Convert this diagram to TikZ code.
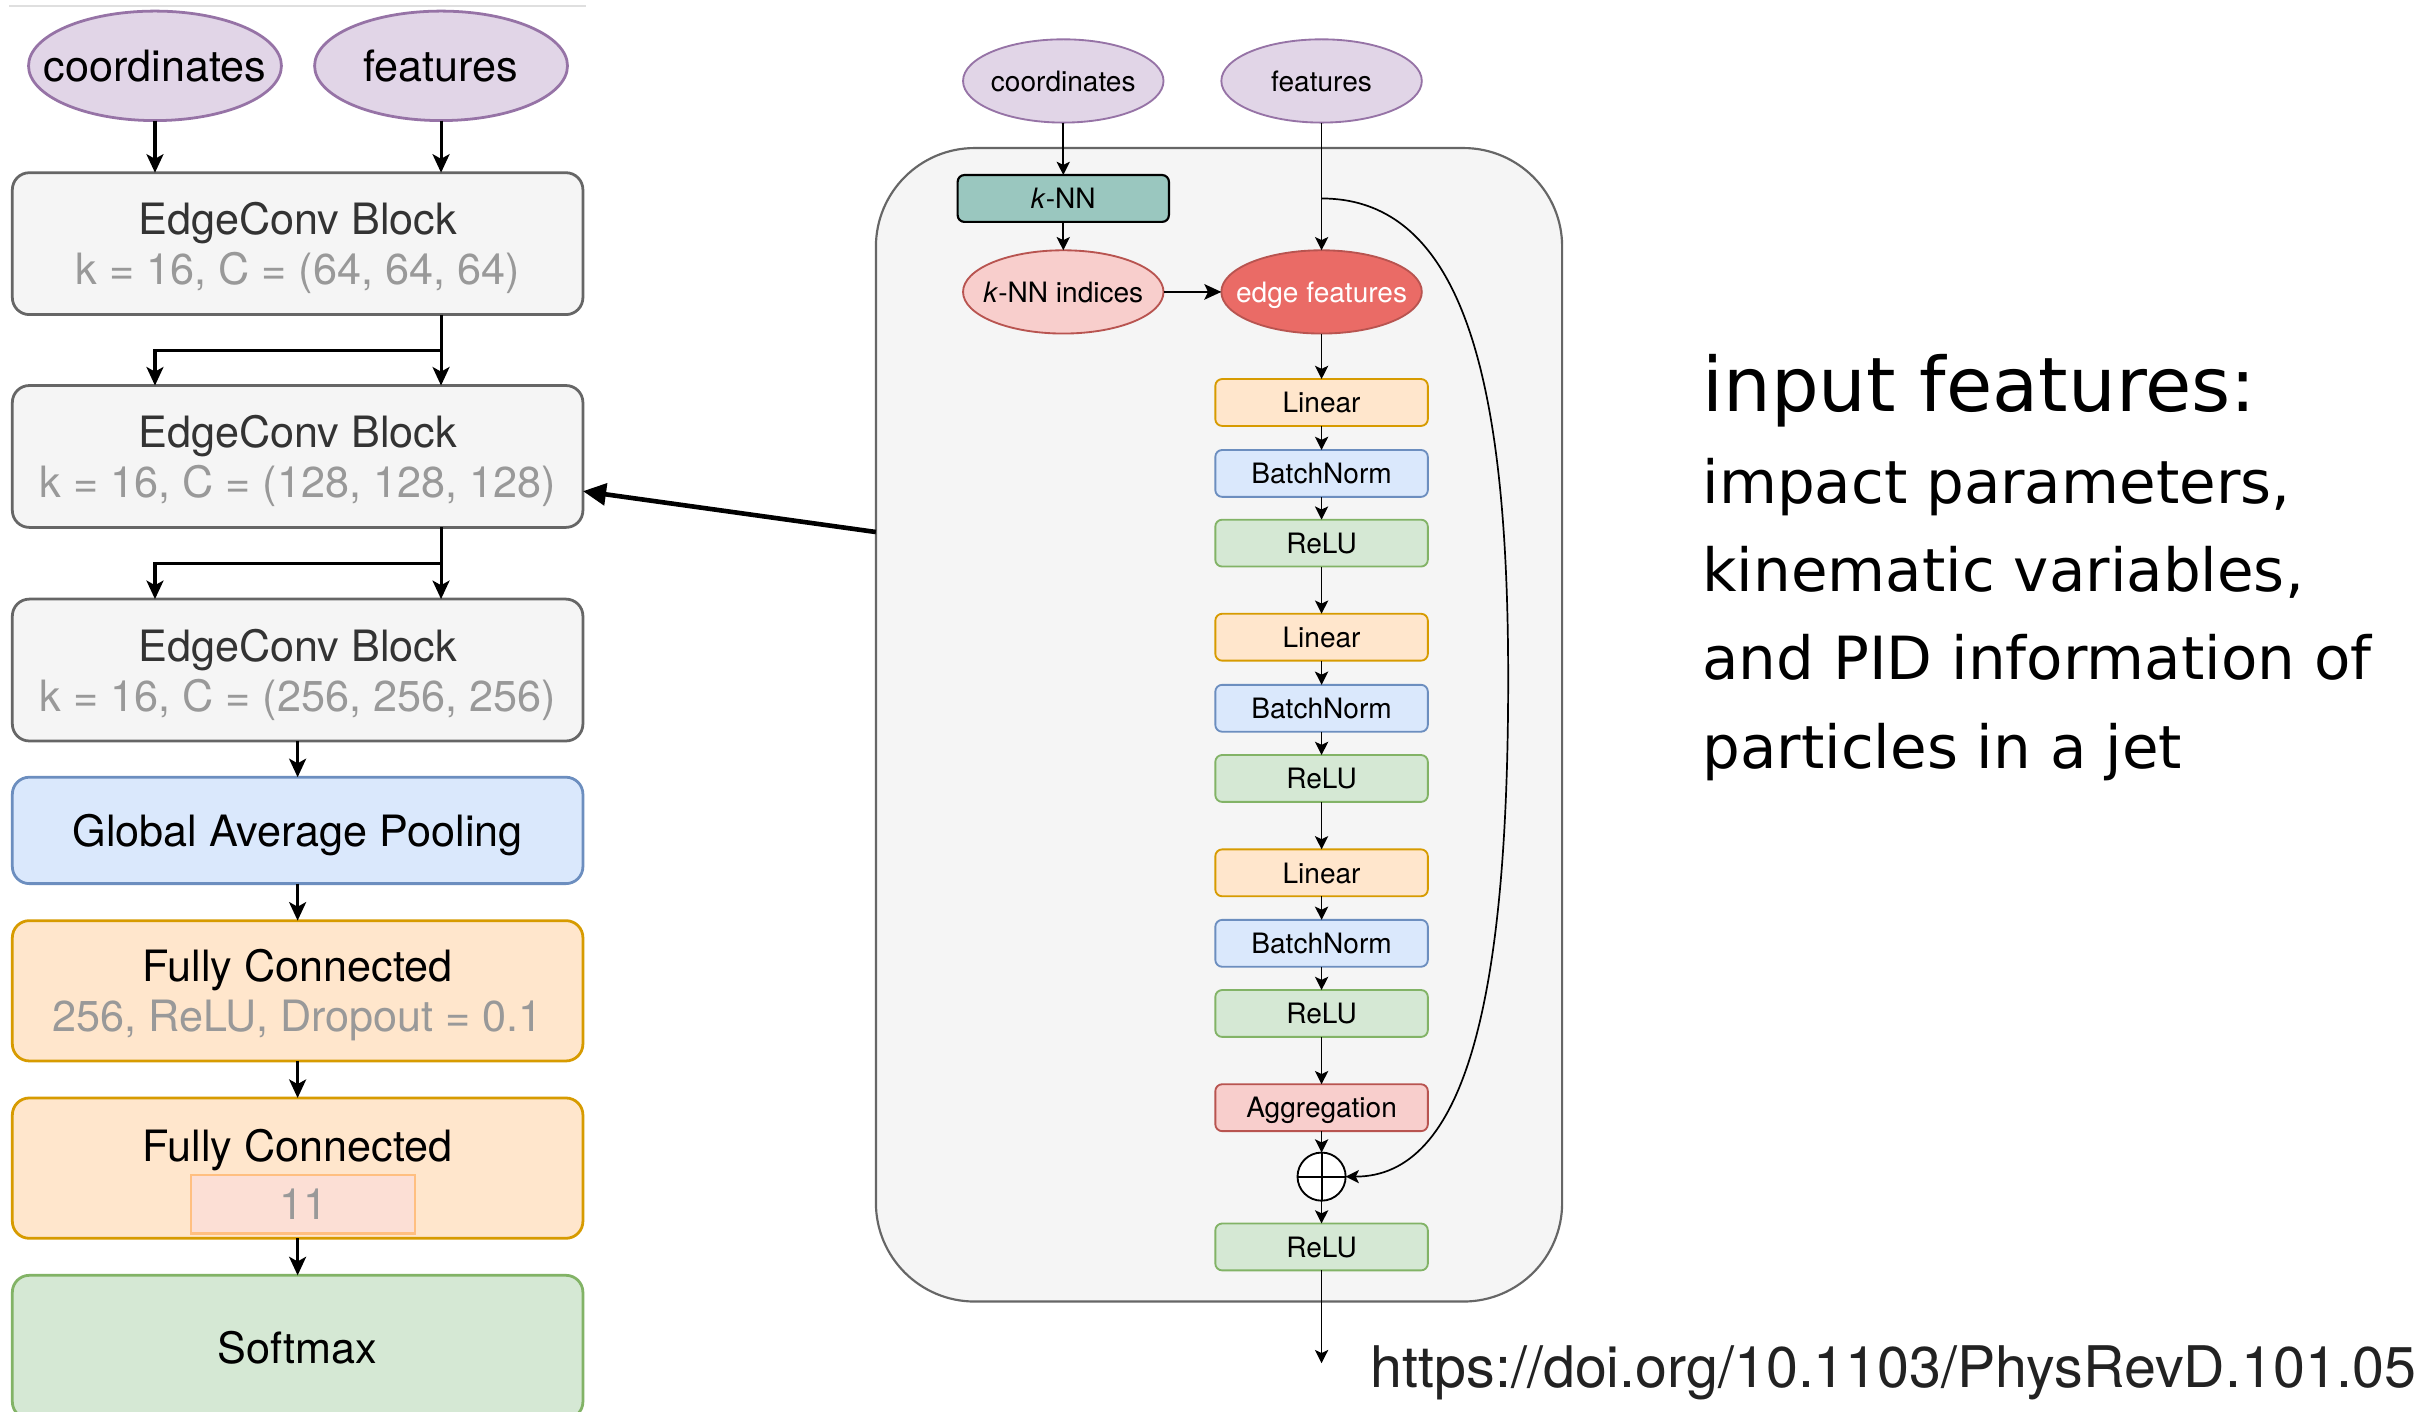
\documentclass[tikz,border=0pt]{standalone}
\usepackage{fontspec}
\setmainfont{TeX Gyre Heros}
\newfontfamily\handfont{DejaVu Sans}
\usetikzlibrary{calc,arrows.meta,shapes.geometric}

\definecolor{boxfill}{HTML}{F5F5F5}
\definecolor{boxline}{HTML}{666666}
\definecolor{boxtext}{HTML}{333333}
\definecolor{subtext}{HTML}{999999}
\definecolor{inputfill}{HTML}{E1D5E7}
\definecolor{inputline}{HTML}{9673A6}
\definecolor{bluefill}{HTML}{DAE8FC}
\definecolor{blueline}{HTML}{6C8EBF}
\definecolor{orangefill}{HTML}{FFE6CC}
\definecolor{orangeline}{HTML}{D79B00}
\definecolor{greenfill}{HTML}{D5E8D4}
\definecolor{greenline}{HTML}{82B366}
\definecolor{redfill}{HTML}{F8CECC}
\definecolor{redline}{HTML}{B85450}
\definecolor{edgered}{HTML}{EA6B66}
\definecolor{knnfill}{HTML}{9AC7BF}
\definecolor{outfill}{HTML}{FCDFD5}
\definecolor{outborder}{HTML}{FFBF80}
\definecolor{urltext}{HTML}{222222}

\begin{document}
\begin{tikzpicture}[x=0.5pt, y=-0.5pt, inner sep=0pt, outer sep=0pt,
    bigfont/.style={font=\fontsize{14}{16.2}\selectfont},
    smallfont/.style={font=\fontsize{9.1}{11}\selectfont},
    % left column
    input_l/.style={ellipse, draw=inputline, fill=inputfill, line width=0.9pt,
        minimum width=82pt, minimum height=35.5pt, text depth=0pt, bigfont},
    net_box/.style={rounded corners=5.5pt, line width=0.9pt, minimum width=185pt,
        minimum height=46pt, align=center, text depth=0pt, bigfont},
    ec_box/.style={net_box, draw=boxline, fill=boxfill, text=boxtext},
    gap_box/.style={net_box, draw=blueline, fill=bluefill, minimum height=34.5pt},
    fc_box/.style={net_box, draw=orangeline, fill=orangefill, minimum height=45.5pt},
    sm_box/.style={net_box, draw=greenline, fill=greenfill, minimum height=46.5pt},
    out_box/.style={draw=outborder, fill=outfill, line width=0.8pt, minimum width=72.5pt,
        minimum height=19pt, text=subtext, bigfont},
    arr_l/.style={-{Stealth[length=6pt,width=5.5pt,inset=1.5pt]}, line width=1pt},
    % edge conv block
    input_m/.style={ellipse, draw=inputline, fill=inputfill, line width=0.6pt,
        minimum width=65pt, minimum height=27pt, text depth=0pt, smallfont},
    layer/.style={rounded corners=2.2pt, line width=0.6pt, minimum width=68.9pt,
        minimum height=15.2pt, text depth=0pt, smallfont},
    lin/.style={layer, draw=orangeline, fill=orangefill},
    bnorm/.style={layer, draw=blueline, fill=bluefill},
    relu/.style={layer, draw=greenline, fill=greenfill},
    arr_m/.style={-{Stealth[length=4.3pt,width=4.3pt,inset=1pt]}, line width=0.55pt},
    % side notes
    hand_title/.style={anchor=base west, font=\handfont\fontsize{24.4}{28}\selectfont},
    hand_body/.style={anchor=base west, font=\handfont\fontsize{19.3}{23}\selectfont}]

    \path[use as bounding box, fill=white] (0,0) rectangle (1568,915);
    \draw[gray!25, line width=0.5pt] (6,4) -- (380,4);

    % network overview
    \node[input_l] (coord_l) at (100.5, 42.7) {\makebox[0pt]{coordinates}};
    \node[input_l] (feat_l) at (286, 42.7) {\makebox[0pt]{features}};

    \node[ec_box] (ec_1) at (193, 158)
    {EdgeConv Block\\ \textcolor{subtext}{k = 16, C = (64, 64, 64)}};
    \node[ec_box] (ec_2) at (193, 296)
    {EdgeConv Block\\ \textcolor{subtext}{k = 16, C = (128, 128, 128)}};
    \node[ec_box] (ec_3) at (193, 434.5)
    {EdgeConv Block\\ \textcolor{subtext}{k = 16, C = (256, 256, 256)}};
    \node[gap_box] (gap) at (193, 538.5) {Global Average Pooling};
    \node[fc_box] (fc_1) at (193, 642.5)
    {Fully Connected\\ \textcolor{subtext}{256, ReLU, Dropout = 0.1}};
    \node[fc_box] (fc_2) at (193, 757.5) {};
    \node[anchor=base, bigfont] (fc_2_cap) at (193, 753) {Fully Connected};
    \node[out_box] (fc_2_out) at (196.5, 781) {11};
    \node[sm_box] (softmax) at (193, 873.5) {Softmax};

    \draw[arr_l] (coord_l) -- (coord_l |- ec_1.north);
    \draw[arr_l] (feat_l) -- (feat_l |- ec_1.north);

    \coordinate (split_1) at ($(feat_l |- ec_1.south)!0.5!(feat_l |- ec_2.north)$);
    \draw[arr_l] (feat_l |- ec_1.south) -- (feat_l |- ec_2.north);
    \draw[arr_l] (split_1) -| (coord_l |- ec_2.north);

    \coordinate (split_2) at ($(feat_l |- ec_2.south)!0.5!(feat_l |- ec_3.north)$);
    \draw[arr_l] (feat_l |- ec_2.south) -- (feat_l |- ec_3.north);
    \draw[arr_l] (split_2) -| (coord_l |- ec_3.north);

    \draw[arr_l] (ec_3) -- (gap);
    \draw[arr_l] (gap) -- (fc_1);
    \draw[arr_l] (fc_1) -- (fc_2);
    \draw[arr_l] (fc_2) -- (softmax);

    % edge conv block
    \node[draw=boxline, fill=boxfill, line width=0.7pt, rounded corners=32pt,
        minimum width=222.5pt, minimum height=374pt] (block) at (790.5, 470) {};

    \node[input_m] (coord_m) at (689.5, 52.5) {\makebox[0pt]{coordinates}};
    \node[input_m] (feat_m) at (857, 52.5) {\makebox[0pt]{features}};

    \node[layer, draw=black, fill=knnfill, minimum width=68.5pt, line width=0.7pt]
    (knn) at (689.5, 128.7) {\textit{k}-NN};
    \node[input_m, draw=redline, fill=redfill] (knn_idx) at (689.5, 189.3)
    {\makebox[0pt]{\textit{k}-NN indices}};
    \node[input_m, draw=redline, fill=edgered, text=white] (edge_feat) at (857, 189.3)
    {\makebox[0pt]{edge features}};

    \node[lin] (lin_1) at (857, 261) {Linear};
    \node[bnorm] (bn_1) at (857, 307) {BatchNorm};
    \node[relu] (relu_1) at (857, 352.2) {ReLU};
    \node[lin] (lin_2) at (857, 413.2) {Linear};
    \node[bnorm] (bn_2) at (857, 459.3) {BatchNorm};
    \node[relu] (relu_2) at (857, 504.8) {ReLU};
    \node[lin] (lin_3) at (857, 566) {Linear};
    \node[bnorm] (bn_3) at (857, 611.7) {BatchNorm};
    \node[relu] (relu_3) at (857, 657.2) {ReLU};
    \node[layer, draw=redline, fill=redfill] (aggr) at (857, 718.3) {Aggregation};
    \node[circle, draw=black, fill=white, line width=0.6pt, minimum size=15.6pt]
    (oplus) at (857, 763) {};
    \node[relu] (relu_4) at (857, 808.6) {ReLU};

    \draw[line width=0.6pt] (oplus.north) -- (oplus.south) (oplus.west) -- (oplus.east);

    \draw[arr_m] (coord_m) -- (knn);
    \draw[arr_m] (knn) -- (knn_idx);
    \draw[-{Stealth[length=5.5pt,width=5pt,inset=1.2pt]}, line width=0.9pt]
    (knn_idx) -- (edge_feat);
    \draw[arr_m] (feat_m) -- (edge_feat);

    \foreach \a/\b in {edge_feat/lin_1, lin_1/bn_1, bn_1/relu_1, relu_1/lin_2,
        lin_2/bn_2, bn_2/relu_2, relu_2/lin_3, lin_3/bn_3, bn_3/relu_3,
        relu_3/aggr, aggr/oplus, oplus/relu_4}
        \draw[arr_m] (\a) -- (\b);

    % shortcut around the MLP
    \coordinate (skip) at (feat_m |- knn);
    \coordinate (skip_r) at (978, 440);
    \draw[arr_m] (skip) .. controls +(93,0) and +(0,-190) .. (skip_r)
        .. controls +(0,210) and +(77,0) .. (oplus.east);

    \coordinate (block_out) at (857, 884);
    \draw[arr_m] (relu_4) -- (block_out);

    % block zoom
    \coordinate (zoom_from) at (block.west |- 0,345);
    \coordinate (zoom_to) at (ec_2.east |- 0,318.5);
    \draw[-{Triangle[length=7.5pt,width=7pt]}, line width=1.5pt] (zoom_from) -- (zoom_to);

    % notes
    \node[hand_title] (note_head) at (1104, 267) {input features:};
    \node[hand_body] (note_1) at ($(note_head.base west)+(0,59.5)$) {impact parameters,};
    \node[hand_body] (note_2) at ($(note_1.base west)+(0,57.2)$) {kinematic variables,};
    \node[hand_body] (note_3) at ($(note_2.base west)+(0,57.2)$) {and PID information of};
    \node[hand_body] (note_4) at ($(note_3.base west)+(0,57.2)$) {particles in a jet};

    \node[anchor=base west, text=urltext, font=\fontsize{18.6}{22}\selectfont] (doi)
    at (889, 900) {https://doi.org/10.1103/PhysRevD.101.05};
\end{tikzpicture}
\end{document}
